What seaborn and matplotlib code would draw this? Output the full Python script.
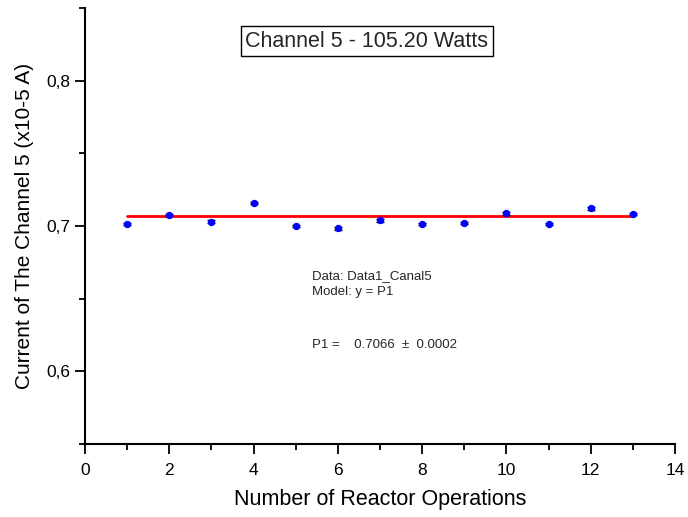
import numpy as np
import pandas as pd
import matplotlib
matplotlib.use('Agg')
import matplotlib.pyplot as plt
import seaborn as sns
from matplotlib.ticker import MultipleLocator, FuncFormatter

# Channel 5 readings per reactor operation
operations = [1, 2, 3, 4, 5, 6, 7, 8, 9, 10, 11, 12, 13]
current = [0.7014, 0.7075, 0.7029, 0.7159, 0.7000, 0.6984, 0.7039,
           0.7012, 0.7020, 0.7087, 0.7016, 0.7121, 0.7082]
current_err = [0.0008, 0.0009, 0.0010, 0.0008, 0.0008, 0.0011, 0.0008,
               0.0008, 0.0008, 0.0008, 0.0008, 0.0008, 0.0008]
p1_fit = 0.7066
p1_err = 0.0002

data = pd.DataFrame({'op': operations, 'current': current, 'err': current_err})
fit = pd.DataFrame({'op': [operations[0], operations[-1]], 'current': [p1_fit, p1_fit]})

sns.set_style('ticks')
plt.rcParams['font.family'] = ['Liberation Sans', 'DejaVu Sans']

fig = plt.figure(figsize=(6.88, 5.17), dpi=100)
ax = fig.add_axes([0.1235, 0.1412, 0.8575, 0.8433])

sns.lineplot(data=fit, x='op', y='current', color='red', linewidth=2, ax=ax)
ax.errorbar(data['op'], data['current'], yerr=data['err'], fmt='none',
            ecolor='black', elinewidth=1, capsize=3, capthick=1, zorder=3)
sns.scatterplot(data=data, x='op', y='current', marker='o', s=20,
                color='blue', edgecolor='blue', linewidth=0.8, zorder=4, ax=ax)

ax.set_xlim(0, 14)
ax.set_ylim(0.55, 0.85)
ax.xaxis.set_major_locator(MultipleLocator(2))
ax.xaxis.set_minor_locator(MultipleLocator(1))
ax.yaxis.set_major_locator(MultipleLocator(0.1))
ax.yaxis.set_minor_locator(MultipleLocator(0.05))
ax.yaxis.set_major_formatter(FuncFormatter(lambda v, p: f'{v:.1f}'.replace('.', ',')))
ax.tick_params(which='major', length=7.5, width=1.3, labelsize=12.5, direction='out',
               color='black', labelcolor='black', pad=3)
ax.tick_params(axis='x', which='major', pad=6)
ax.tick_params(which='minor', length=4, width=1.3, direction='out', color='black')

sns.despine(ax=ax)
for s in ['left', 'bottom']:
    ax.spines[s].set_linewidth(1.5)
    ax.spines[s].set_color('black')

ax.set_xlabel('Number of Reactor Operations', fontsize=15.5, labelpad=8, color='black')
ax.set_ylabel('Current of The Channel 5 (x10-5 A)', fontsize=15, labelpad=9, color='black')

ax.text(0.478, 0.924, 'Channel 5 - 105.20 Watts', transform=ax.transAxes,
        fontsize=15.5, ha='center', va='center',
        bbox=dict(boxstyle='square,pad=0.2', facecolor='white', edgecolor='black', linewidth=1))

ax.text(0.385, 0.385, 'Data: Data1_Canal5', transform=ax.transAxes, fontsize=9.5, va='center')
ax.text(0.385, 0.348, 'Model: y = P1', transform=ax.transAxes, fontsize=9.5, va='center')
ax.text(0.385, 0.228, f'P1 =    {p1_fit:.4f}  \u00b1  {p1_err:.4f}', transform=ax.transAxes,
        fontsize=9.5, va='center')

fig.savefig('out.png', dpi=100)
